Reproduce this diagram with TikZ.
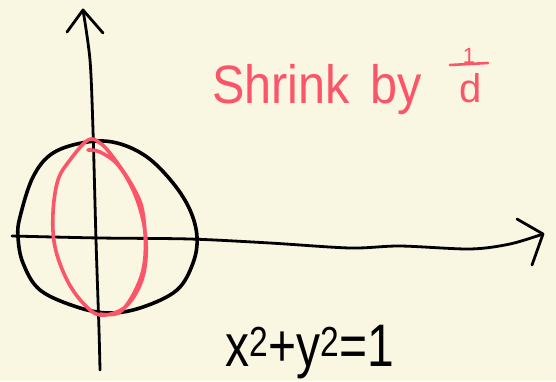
\documentclass[tikz,border=0pt]{standalone}
\usepackage{fontspec}
\setmainfont{Liberation Sans}
\definecolor{paper}{RGB}{249,246,225}
\definecolor{pink}{RGB}{252,84,104}
\begin{document}
\begin{tikzpicture}[x=1pt,y=-1pt,
  ink/.style={line width=2.8pt,line cap=round,line join=round,black},
  pinkink/.style={line width=3.6pt,line cap=round,line join=round,pink},
  lbl/.style={inner sep=0pt,anchor=base west}]
\fill[paper] (0,0) rectangle (556,381);
\useasboundingbox (0,0) rectangle (556,381);
% axes
\coordinate (ytip) at (83,10);
\coordinate (xtip) at (543,234);
\draw[ink] plot[smooth] coordinates {(100,370) (99,330) (96,240) (93,130) (90,60) (ytip)};
\draw[ink] (67,32) -- (ytip) -- (103,33);
\draw[ink] plot[smooth] coordinates {(12,236) (100,238) (190,239) (270,243) (350,248) (400,246) (470,249) (510,244) (xtip)};
\draw[ink] (517,219) -- (xtip) -- (532,265);
% black circle
\draw[ink,line width=3.6pt] plot[smooth cycle,tension=0.6] coordinates {(18,237) (20,217) (33,177) (53,153) (87,142) (117,143) (147,157) (173,183) (190,210) (197,237) (193,263) (177,290) (143,307) (110,313) (77,307) (40,290) (23,263)};
% pink ellipse (two loops)
\draw[pinkink] plot[smooth,tension=0.6] coordinates {(88,150) (100,152) (118,165) (134,192) (144,225) (146,257) (140,285) (124,308) (100,315) (83,303) (67,280) (55,247) (53,213) (58,180) (70,160) (88,140) (100,143) (113,157) (133,187) (143,213) (145,257) (137,287) (120,312) (100,314)};
% texts
\node[lbl,pink,xscale=0.9,font=\fontsize{54}{60}\selectfont] (shrink) at (212,103) {Shrink\hspace{0.15em} by};
\node[inner sep=0pt,anchor=base,pink,font=\fontsize{22}{24}\selectfont] (one) at (469,63) {1};
\node[inner sep=0pt,anchor=base,pink,font=\fontsize{40}{44}\selectfont] (dd) at (471,102) {d};
\draw[pink,line width=2.6pt,line cap=round] (450,65) -- (488,63);
\node[lbl,xscale=0.8,font=\fontsize{60}{66}\selectfont] (eq) at (225,366) {x\textsuperscript{2}+y\textsuperscript{2}=1};
\end{tikzpicture}
\end{document}
